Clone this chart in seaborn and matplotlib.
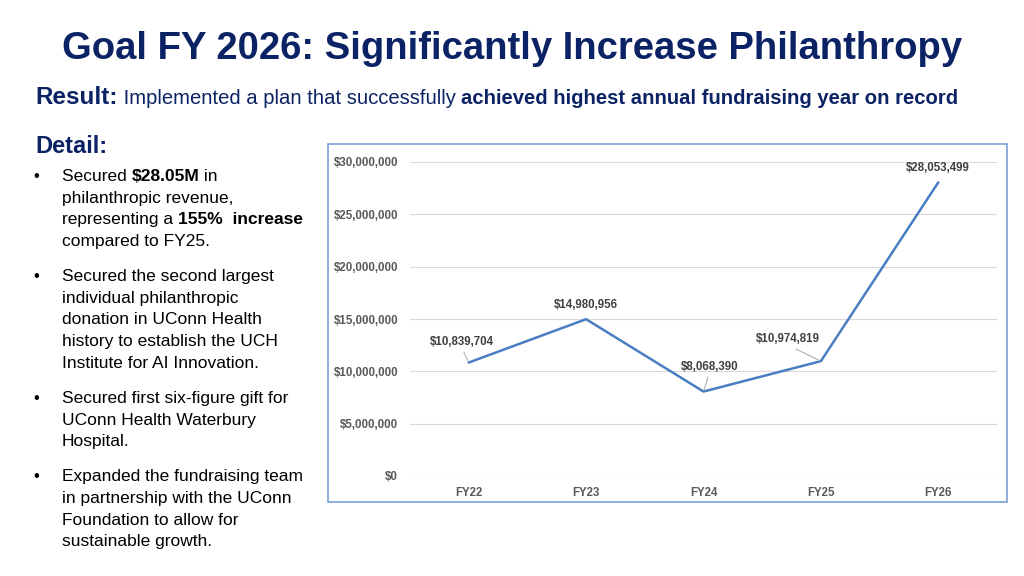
#!/usr/bin/env python3
"""Slide: FY26 philanthropy goal with fundraising trend line."""

import matplotlib
matplotlib.use("Agg")
import matplotlib.pyplot as plt
from matplotlib.patches import Rectangle
from matplotlib.ticker import FuncFormatter
import seaborn as sns

# data
years = ["FY22", "FY23", "FY24", "FY25", "FY26"]
revenue = [10839704, 14980956, 8068390, 10974819, 28053499]
y_ticks = [0, 5000000, 10000000, 15000000, 20000000, 25000000, 30000000]

title = "Goal FY 2026: Significantly Increase Philanthropy"
bullets = [
    [[("Secured ", "normal"), ("$28.05M", "bold"), (" in", "normal")],
     [("philanthropic revenue,", "normal")],
     [("representing a ", "normal"), ("155%  increase", "bold")],
     [("compared to FY25.", "normal")]],
    [[("Secured the second largest", "normal")],
     [("individual philanthropic", "normal")],
     [("donation in UConn Health", "normal")],
     [("history to establish the UCH", "normal")],
     [("Institute for AI Innovation.", "normal")]],
    [[("Secured first six-figure gift for", "normal")],
     [("UConn Health Waterbury", "normal")],
     [("Hospital.", "normal")]],
    [[("Expanded the fundraising team", "normal")],
     [("in partnership with the UConn", "normal")],
     [("Foundation to allow for", "normal")],
     [("sustainable growth.", "normal")]],
]

# label placement (pixel offsets from point) and leader lines
label_offsets = [(-7, 21, True), (0, 14, False), (6, 25, True), (-33, 22, True), (0, 14, False)]

NAVY = "#0B2265"
W, H = 1024, 576

sns.set_style("white")
plt.rcParams["font.family"] = ["Liberation Sans", "DejaVu Sans"]

fig = plt.figure(figsize=(W / 100, H / 100), dpi=100)
renderer = fig.canvas.get_renderer()


def fx(px):
    return px / W


def fy(py):
    return 1 - py / H


def draw_runs(x, y, runs, color):
    """Draw text pieces of mixed style one after another on a baseline."""
    for text, size, weight in runs:
        t = fig.text(fx(x), fy(y), text, fontsize=size, fontweight=weight,
                     color=color, va="baseline", ha="left")
        x += t.get_window_extent(renderer).width
    return x


# header
fig.text(0.5, fy(59), title, fontsize=27.5, fontweight="bold", color=NAVY,
         ha="center", va="baseline")
draw_runs(35, 104, [("Result:", 17.5, "bold"),
                    (" Implemented a plan that successfully ", 14.6, "normal"),
                    ("achieved highest annual fundraising year on record", 14.6, "bold")], NAVY)
fig.text(fx(35), fy(153), "Detail:", fontsize=17, fontweight="bold", color=NAVY,
         va="baseline")

# bullets
y = 181
for para in bullets:
    fig.text(fx(33), fy(y), "\u2022", fontsize=12, color="black", va="baseline")
    for line in para:
        draw_runs(62, y, [(t, 12.5, w) for t, w in line], "black")
        y += 21.7
    y += 13.3

# chart frame
fig.patches.append(Rectangle((fx(328), fy(502)), fx(679), 358 / H,
                             transform=fig.transFigure, fill=False,
                             edgecolor="#7BA0D4", linewidth=1.2))

ax = fig.add_axes([fx(410), fy(476), fx(587), (476 - 162) / H])
sns.lineplot(x=years, y=revenue, ax=ax, sort=False, color="#4A7EC2", linewidth=1.8)
ax.set_xlim(-0.5, len(years) - 0.5)
ax.set_ylim(0, 30000000)
ax.set_yticks(y_ticks)
ax.yaxis.set_major_formatter(FuncFormatter(lambda v, _: f"${v:,.0f}"))
ax.grid(axis="y", color="#D9D9D9", linewidth=0.8)
ax.grid(axis="x", visible=False)
ax.set_axisbelow(True)
for s in ax.spines.values():
    s.set_visible(False)
ax.tick_params(length=0, labelsize=8.3, labelcolor="#595959")
ax.tick_params(axis="y", pad=8.5)
ax.tick_params(axis="x", pad=8)
for lab in ax.get_xticklabels() + ax.get_yticklabels():
    lab.set_fontweight("bold")
ax.set_xlabel("")
ax.set_ylabel("")

for i, (val, (dx, dy, leader)) in enumerate(zip(revenue, label_offsets)):
    arrow = dict(arrowstyle="-", color="#A6A6A6", lw=0.7, relpos=(0.5, 0),
                 shrinkA=1, shrinkB=1) if leader else None
    ax.annotate(f"${val:,.0f}", xy=(i, val), xytext=(dx, dy),
                textcoords="offset pixels", ha="center", va="center",
                fontsize=8.3, fontweight="bold", color="#404040",
                arrowprops=arrow, annotation_clip=False)

fig.savefig("out.png", dpi=100)
